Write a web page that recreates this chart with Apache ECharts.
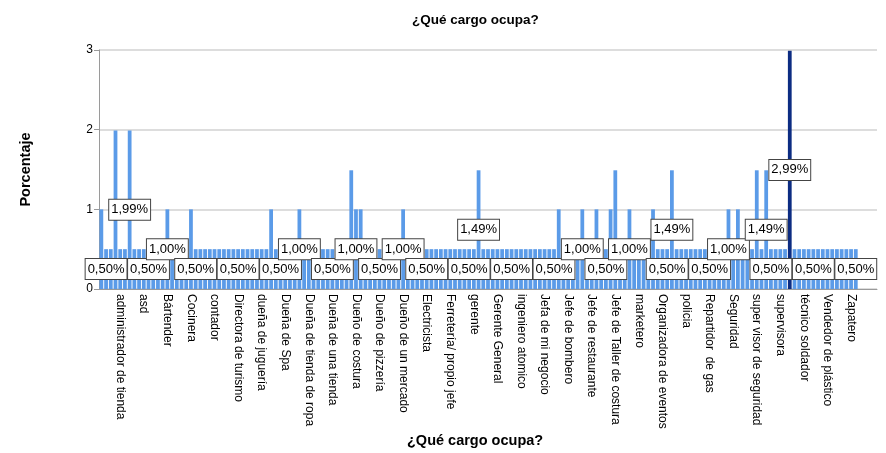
<!DOCTYPE html>
<html>
<head>
<meta charset="utf-8">
<script src="https://cdn.jsdelivr.net/npm/echarts@6/dist/echarts.min.js"></script>
<style>
html,body{margin:0;padding:0;background:#fff;}
#chart{width:886px;height:453px;}
</style>
</head>
<body>
<div id="chart"></div>
<script>
// Visible tick labels (every 5th category, starting with the 5th)
const tickLabels = [
  'administrador de tienda','asd','Bártender','Cocinera','contador',
  'Directora de turismo','dueña de juguería','Dueña de Spa','Dueña de tienda de ropa',
  'Dueña de una tienda','Dueño de costura','Dueño de pizzería','Dueño de un mercado',
  'Electricista','Ferretería/ propio jefe','gerente','Gerente General','ingeniero atomico',
  'Jefa de mi negocio','Jefe de bombero','Jefe de restaurante','Jefe de Taller de costura',
  'marketero','Organizadora de eventos','policia','Repartidor  de gas','Seguridad',
  'super visor de seguridad','supervisora','técnico soldador','Vendedor de plástico','Zapatero'
];

// Percentage for each of the 161 categories
const percentages = [
  1.00,0.50,0.50,1.99,0.50,0.50,1.99,0.50,0.50,0.50,
  0.50,0.50,0.50,0.50,1.00,0.50,0.50,0.50,0.50,1.00,
  0.50,0.50,0.50,0.50,0.50,0.50,0.50,0.50,0.50,0.50,
  0.50,0.50,0.50,0.50,0.50,0.50,1.00,0.50,0.50,0.50,
  0.50,0.50,1.00,0.50,0.50,0.50,0.50,0.50,0.50,0.50,
  0.50,0.50,0.50,1.49,1.00,1.00,0.50,0.50,0.50,0.50,
  0.50,0.50,0.50,0.50,1.00,0.50,0.50,0.50,0.50,0.50,
  0.50,0.50,0.50,0.50,0.50,0.50,0.50,0.50,0.50,0.50,
  1.49,0.50,0.50,0.50,0.50,0.50,0.50,0.50,0.50,0.50,
  0.50,0.50,0.50,0.50,0.50,0.50,0.50,1.00,0.50,0.50,
  0.50,0.50,1.00,0.50,0.50,1.00,0.50,0.50,1.00,1.49,
  0.50,0.50,1.00,0.50,0.50,0.50,0.50,1.00,0.50,0.50,
  0.50,1.49,0.50,0.50,0.50,0.50,0.50,0.50,0.50,0.50,
  0.50,0.50,0.50,1.00,0.50,1.00,0.50,0.50,0.50,1.49,
  0.50,1.49,0.50,0.50,0.50,0.50,2.99,0.50,0.50,0.50,
  0.50,0.50,0.50,0.50,0.50,0.50,0.50,0.50,0.50,0.50,
  0.50
];

// Bars whose value label is displayed (the others are hidden to avoid overlap, as in the source)
const labeledBars = [
  1,10,20,29,38,49,59,69,78,87,96,107,120,129,142,151,160,
  14,42,54,64,102,112,133,
  80,121,141,
  6,
  146
];

const yTicks = [0, 1, 2, 3];
const titleText = '¿Qué cargo ocupa?';
const xName = '¿Qué cargo ocupa?';
const yName = 'Porcentaje';

const categories = percentages.map((_, i) => (i % 5 === 4 ? tickLabels[(i - 4) / 5] : ''));
const maxVal = Math.max(...percentages);
const seriesData = percentages.map((v, i) => ({value: v, label: {show: labeledBars.includes(i)}}));

const chart = echarts.init(document.getElementById('chart'), null, {renderer: 'canvas'});
const FONT = 'Liberation Sans, Arial, sans-serif';

chart.setOption({
  animation: false,
  backgroundColor: '#fff',
  textStyle: {fontFamily: FONT},
  grid: {left: 99, right: 9, top: 50, bottom: 164, containLabel: false},
  graphic: [
    {type: 'text', left: 412, top: 13, style: {text: titleText, font: 'bold 13.5px ' + FONT, fill: '#000'}},
    {type: 'text', left: 407, top: 433, style: {text: xName, font: 'bold 14.5px ' + FONT, fill: '#000'}}
  ],
  xAxis: {
    type: 'category',
    data: categories,
    max: 164,
    boundaryGap: true,
    axisLine: {show: true, lineStyle: {color: '#9a9a9a', width: 1}},
    axisTick: {show: false},
    splitLine: {show: false},
    axisLabel: {
      interval: (i, v) => !!v,
      rotate: -90,
      fontSize: 12,
      color: '#000',
      margin: 5,
      fontFamily: FONT
    }
  },
  yAxis: {
    type: 'value',
    min: yTicks[0],
    max: yTicks[yTicks.length - 1],
    interval: 1,
    name: yName,
    nameLocation: 'middle',
    nameGap: 66,
    nameTextStyle: {fontSize: 14.5, fontWeight: 'bold', color: '#000', fontFamily: FONT},
    axisLine: {show: true, lineStyle: {color: '#9a9a9a'}},
    axisTick: {show: true, length: 5, lineStyle: {color: '#9a9a9a'}},
    axisLabel: {fontSize: 12, color: '#000', margin: 6, fontFamily: FONT},
    splitLine: {show: true, lineStyle: {color: '#d2d2d2', width: 1.5}}
  },
  series: [{
    type: 'bar',
    data: seriesData,
    barCategoryGap: '20%',
    itemStyle: {
      color: p => (p.value === maxVal ? '#0c2c82' : '#5b9be8')
    },
    label: {
      show: true,
      position: 'inside',
      formatter: p => p.value.toFixed(2).replace('.', ',') + '%',
      color: '#000',
      fontSize: 13,
      lineHeight: 15,
      fontFamily: FONT,
      backgroundColor: '#fff',
      borderColor: '#444',
      borderWidth: 1,
      padding: [3, 2, 2, 2]
    }
  }]
});
</script>
</body>
</html>
